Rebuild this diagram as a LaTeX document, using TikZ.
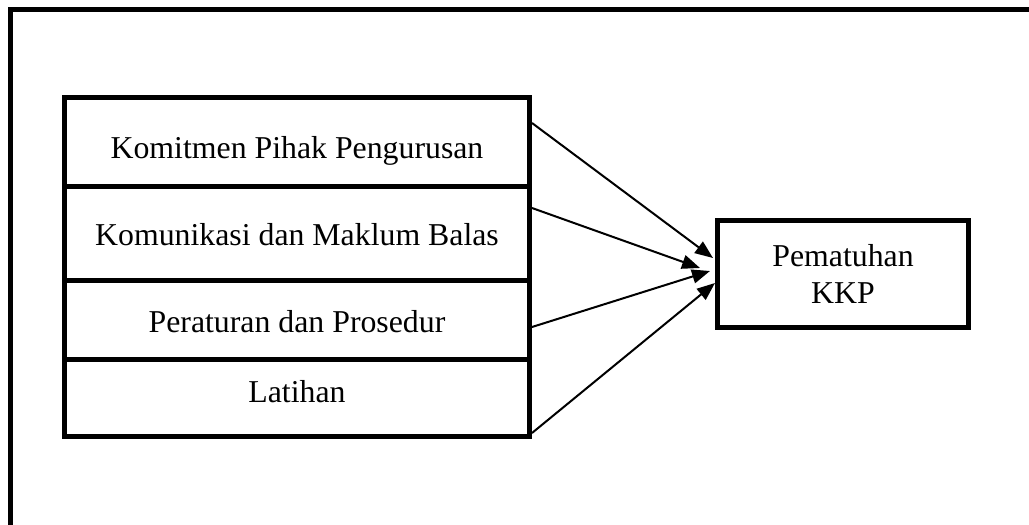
\documentclass[tikz,border=0pt]{standalone}
\usepackage{fontspec}
\setmainfont{Liberation Serif}
\usetikzlibrary{arrows.meta}
\begin{document}
\begin{tikzpicture}[x=1pt,y=-1pt,
  box/.style={draw, line width=5pt, rectangle, inner sep=0pt},
  lbl/.style={anchor=base, inner sep=0pt, font=\fontsize{31.8}{37}\selectfont},
  arr/.style={line width=2pt, -{Triangle[length=18pt,width=14pt]}}]
\clip (0,0) rectangle (1029,525);
\fill[white] (0,0) rectangle (1029,525);
% outer frame (cropped)
\draw[line width=5pt] (10.5,560) -- (10.5,9.5) -- (1060,9.5);
% left boxes
\node[box, minimum width=465.5pt, minimum height=89pt] (b1) at (296.75,142) {};
\node[box, minimum width=465.5pt, minimum height=94pt] (b2) at (296.75,233.5) {};
\node[box, minimum width=465.5pt, minimum height=78.5pt] (b3) at (296.75,319.75) {};
\node[box, minimum width=465.5pt, minimum height=77.5pt] (b4) at (296.75,397.75) {};
\node[lbl] (t1) at (297,158) {Komitmen Pihak Pengurusan};
\node[lbl] (t2) at (297,245) {Komunikasi dan Maklum Balas};
\node[lbl] (t3) at (297,332) {Peraturan dan Prosedur};
\node[lbl] (t4) at (297,402) {Latihan};
% right box
\node[box, minimum width=251pt, minimum height=107.5pt, align=center,
      font=\fontsize{31.8}{37}\selectfont] (k) at (843,273.75) {Pematuhan\\KKP};
% arrows
\draw[arr] ([yshift=19pt]b1.east) -- ([xshift=-2pt,yshift=15.75pt]k.west);
\draw[arr] ([yshift=25.5pt]b2.east) -- ([xshift=-15pt,yshift=5.75pt]k.west);
\draw[arr] ([yshift=-7.25pt]b3.east) -- ([xshift=-5pt,yshift=2.75pt]k.west);
\draw[arr] ([yshift=-35.25pt]b4.east) -- ([yshift=-9.25pt]k.west);
\end{tikzpicture}
\end{document}
